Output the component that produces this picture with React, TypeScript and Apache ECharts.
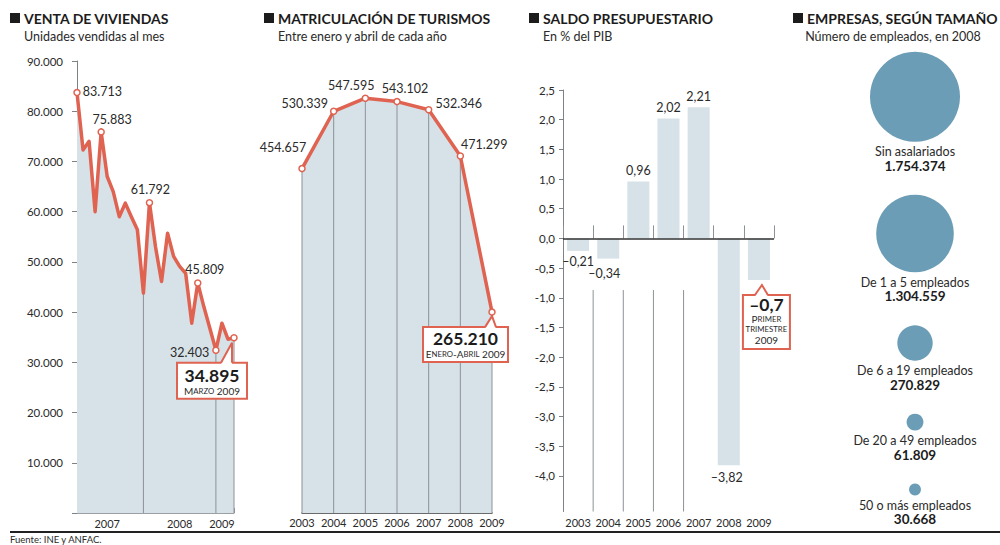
import React, { useEffect, useRef } from 'react';
import * as echarts from 'echarts';

// ---------- DATA ----------
const salesMonths = [
  'Ene 2007', 'Feb 2007', 'Mar 2007', 'Abr 2007', 'May 2007', 'Jun 2007', 'Jul 2007', 'Ago 2007', 'Sep 2007', 'Oct 2007', 'Nov 2007', 'Dic 2007',
  'Ene 2008', 'Feb 2008', 'Mar 2008', 'Abr 2008', 'May 2008', 'Jun 2008', 'Jul 2008', 'Ago 2008', 'Sep 2008', 'Oct 2008', 'Nov 2008', 'Dic 2008',
  'Ene 2009', 'Feb 2009', 'Mar 2009',
];
const salesValues = [
  83713, 72300, 74000, 60000, 75883, 67000, 64000, 59000, 61700, 59000, 56400, 43800,
  61792, 53000, 46100, 55700, 51100, 49100, 47700, 37800, 45809, 41100, 36800, 32403,
  37800, 34600, 34895,
];
const salesLabeled = [0, 4, 12, 20, 23];
const salesDividers = [11, 23, 26];
const salesYearLabels: Record<number, string> = { 5: '2007', 17: '2008', 24: '2009' };
const salesTicks = { min: 0, max: 90000, step: 10000 };

const regYears = ['2003', '2004', '2005', '2006', '2007', '2008', '2009'];
const regValues = [454657, 530339, 547595, 543102, 532346, 471299, 265210];

const budgetYears = ['2003', '2004', '2005', '2006', '2007', '2008', '2009'];
const budgetValues = [-0.21, -0.34, 0.96, 2.02, 2.21, -3.82, -0.7];
const budgetTickValues = [2.5, 2.0, 1.5, 1.0, 0.5, 0, -0.5, -1.0, -1.5, -2.0, -2.5, -3.0, -3.5, -4.0];
const budgetAxis = { min: -4.6, max: 2.5, guideTop: -0.87 };

const firmNames = ['Sin asalariados', 'De 1 a 5 empleados', 'De 6 a 19 empleados', 'De 20 a 49 empleados', '50 o más empleados'];
const firmValues = [1754374, 1304559, 270829, 61809, 30668];

// ---------- STYLE ----------
const C_LINE = '#df6350';
const C_AREA = '#d6e1e8';
const C_GRID = '#8d9296';
const C_TEXT = '#2a2a2a';
const C_DARK = '#1c1c1c';
const C_BUBBLE = '#6b9db6';
const FONT = 'Lato, "Open Sans", sans-serif';

const fmtInt = (v: number) => String(Math.round(v)).replace(/\B(?=(\d{3})+(?!\d))/g, '.');
const fmtDec = (v: number, d: number, dash: string) => {
  const s = Math.abs(v).toFixed(d).replace('.', ',');
  return v < 0 ? dash + s : s;
};

// label placements (style, not data)
const salesLabelPos: Record<number, any> = {
  0: { position: 'right', distance: 2, offset: [0, -1] },
  4: { position: 'top', distance: 2, offset: [11, 0] },
  12: { position: 'top', distance: 2, offset: [1, -1] },
  20: { position: 'top', distance: 2, offset: [7, -1] },
  23: { position: 'left', distance: 3, offset: [0, 2] },
};
const regLabelPos: any[] = [
  { offset: [-19, -9] },
  { offset: [-29, 4] },
  { offset: [-14, 0] },
  { offset: [8, -1] },
  { offset: [30, 6] },
  { offset: [24, 1] },
  null,
];
const budgetLabelPos: any[] = [
  { offset: [0, 0] },
  { offset: [-4, 4] },
  { offset: [0, 0] },
  { offset: [0, 0] },
  { offset: [0, 0] },
  { offset: [-2, 1.5] },
  null,
];

const FIRM_R_MAX = 45;
const FIRM_TOP = 51.7;
const FIRM_GAP = 53;

function buildOption(): any {
  const firmRadii = firmValues.map((v) => FIRM_R_MAX * Math.sqrt(v / firmValues[0]));
  let acc = FIRM_TOP;
  const firmCenters = firmRadii.map((r) => {
    const c = acc + r;
    acc += 2 * r + FIRM_GAP;
    return c;
  });

  const series: any[] = [];

  // ---- Panel 1: Venta de viviendas ----
  series.push({
    type: 'line', xAxisIndex: 0, yAxisIndex: 0, z: 1, silent: true,
    data: salesValues, symbol: 'none', lineStyle: { width: 0 },
    areaStyle: { color: C_AREA, opacity: 1 },
  });
  series.push({
    type: 'bar', xAxisIndex: 0, yAxisIndex: 0, z: 2, silent: true, barWidth: 1,
    data: salesValues.map((v, i) => (salesDividers.includes(i) ? v : '-')),
    itemStyle: { color: C_GRID },
  });
  series.push({
    type: 'line', xAxisIndex: 0, yAxisIndex: 0, z: 3,
    showSymbol: true, showAllSymbol: true, symbol: 'circle', symbolSize: 6,
    lineStyle: { color: C_LINE, width: 3.5, join: 'round' },
    itemStyle: { color: '#fff', borderColor: C_LINE, borderWidth: 1.5 },
    data: salesValues.map((v, i) => {
      if (i === salesValues.length - 1) return { value: v };
      if (!salesLabeled.includes(i)) return { value: v, symbol: 'none' };
      return { value: v, label: { show: true, ...salesLabelPos[i] } };
    }),
    label: {
      show: false, fontFamily: FONT, fontSize: 12.5, color: C_TEXT,
      formatter: (p: any) => fmtInt(p.value),
    },
  });

  // ---- Panel 2: Matriculación ----
  series.push({
    type: 'line', xAxisIndex: 1, yAxisIndex: 1, z: 1, silent: true,
    data: regValues, symbol: 'none', lineStyle: { width: 0 },
    areaStyle: { color: C_AREA, opacity: 1 },
  });
  series.push({
    type: 'bar', xAxisIndex: 1, yAxisIndex: 1, z: 2, silent: true, barWidth: 1,
    data: regValues, itemStyle: { color: C_GRID },
  });
  series.push({
    type: 'line', xAxisIndex: 1, yAxisIndex: 1, z: 3,
    symbol: 'circle', symbolSize: 6, showSymbol: true, showAllSymbol: true,
    lineStyle: { color: C_LINE, width: 3.5, join: 'round' },
    itemStyle: { color: '#fff', borderColor: C_LINE, borderWidth: 1.5 },
    data: regValues.map((v, i) => ({
      value: v,
      label: regLabelPos[i] ? { show: true, position: 'top', distance: 2, ...regLabelPos[i] } : { show: false },
    })),
    label: {
      show: false, fontFamily: FONT, fontSize: 12.5, color: C_TEXT,
      formatter: (p: any) => fmtInt(p.value),
    },
  });

  // ---- Panel 3: Saldo presupuestario ----
  series.push({
    type: 'bar', xAxisIndex: 2, yAxisIndex: 2, z: 2, barWidth: 22,
    itemStyle: { color: C_AREA },
    data: budgetValues.map((v, i) => ({
      value: v,
      label: budgetLabelPos[i]
        ? { show: true, position: v < 0 ? 'bottom' : 'top', distance: 4, ...budgetLabelPos[i] }
        : { show: false },
    })),
    label: {
      show: false, fontFamily: FONT, fontSize: 12.5, color: C_TEXT,
      formatter: (p: any) => fmtDec(p.value, 2, '–'),
    },
    markLine: {
      silent: true, symbol: 'none', animation: false,
      label: { show: false },
      lineStyle: { color: '#333', width: 1.5, type: 'solid' },
      data: [{ yAxis: 0 }],
    },
  });
  [1, 2, 3, 4].forEach((b) => {
    series.push({
      type: 'line', xAxisIndex: 3, yAxisIndex: 2, z: 1, silent: true, symbol: 'none',
      lineStyle: { color: C_GRID, width: 1 },
      data: [[b, budgetAxis.min], [b, budgetAxis.guideTop]],
    });
  });

  // ---- Panel 4: Empresas ----
  series.push({
    type: 'scatter', xAxisIndex: 4, yAxisIndex: 3, z: 2,
    itemStyle: { color: C_BUBBLE, opacity: 1 },
    data: firmValues.map((v, i) => ({
      name: firmNames[i], value: [0, firmCenters[i], v], symbolSize: 2 * firmRadii[i],
    })),
    label: {
      show: true, position: 'bottom', distance: 3,
      formatter: (p: any) => `{n|${p.name}}\n{v|${fmtInt(p.value[2])}}`,
      rich: {
        n: { fontFamily: FONT, fontSize: 12.5, color: C_TEXT, lineHeight: 14, align: 'center' },
        v: { fontFamily: FONT, fontSize: 13.5, fontWeight: 'bold', color: C_DARK, lineHeight: 14, align: 'center' },
      },
    },
  });

  const yearLabel = { fontFamily: FONT, fontSize: 11, color: C_TEXT, interval: 0 };

  return {
    animation: false,
    backgroundColor: '#fff',
    textStyle: { fontFamily: FONT },
    grid: [
      { left: 77, right: 1000 - 234, top: 61, bottom: 32, containLabel: false },
      { left: 302, right: 1000 - 492, top: 58.5, bottom: 32, containLabel: false },
      { left: 563, right: 1000 - 774, top: 90, bottom: 33.5, containLabel: false },
      { left: 830, right: 0, top: 0, bottom: 0, containLabel: false },
    ],
    xAxis: [
      {
        type: 'category', gridIndex: 0, data: salesMonths, boundaryGap: false,
        axisLine: { show: true, lineStyle: { color: '#9aa0a4', width: 1 } },
        axisTick: { show: true, inside: true, length: 5, interval: 0, lineStyle: { color: '#8d9296' } },
        axisLabel: {
          ...yearLabel, margin: 5,
          interval: (i: number) => salesYearLabels[i] !== undefined,
          formatter: (_v: string, i: number) => salesYearLabels[i] ?? '',
        },
      },
      {
        type: 'category', gridIndex: 1, data: regYears, boundaryGap: false,
        axisLine: { show: true, lineStyle: { color: '#3a3a3a', width: 1.5 } },
        axisTick: { show: false },
        axisLabel: { ...yearLabel, margin: 4 },
      },
      {
        type: 'category', gridIndex: 2, data: budgetYears, boundaryGap: true,
        axisLine: { show: false },
        axisTick: { show: true, inside: true, length: 13, interval: 0, lineStyle: { color: C_GRID } },
        axisLabel: { ...yearLabel, margin: 5 },
      },
      { type: 'value', gridIndex: 2, min: 0, max: budgetYears.length, show: false },
      { type: 'value', gridIndex: 3, min: -1, max: 1, show: false },
    ],
    yAxis: [
      {
        type: 'value', gridIndex: 0, min: salesTicks.min, max: salesTicks.max, interval: salesTicks.step,
        axisLine: { show: true, lineStyle: { color: '#7d8286', width: 1 } },
        axisTick: { show: true, length: 5, lineStyle: { color: '#7d8286' } },
        splitLine: { show: false },
        axisLabel: {
          fontFamily: FONT, fontSize: 11.5, color: C_TEXT, margin: 14,
          formatter: (v: number) => (v === 0 ? '' : fmtInt(v)),
        },
      },
      { type: 'value', gridIndex: 1, min: 0, max: 600000, show: false },
      {
        type: 'value', gridIndex: 2, min: budgetAxis.min, max: budgetAxis.max,
        axisLine: { show: true, lineStyle: { color: '#7d8286', width: 1 } },
        axisTick: { show: true, length: 4, customValues: budgetTickValues, lineStyle: { color: '#7d8286' } },
        splitLine: { show: false },
        axisLabel: {
          fontFamily: FONT, fontSize: 11.5, color: C_TEXT, margin: 8,
          customValues: budgetTickValues,
          formatter: (v: number) => v.toFixed(1).replace('.', ','),
        },
      },
      { type: 'value', gridIndex: 3, min: 0, max: 545, inverse: true, show: false },
    ],
    series,
  };
}

function titleBlock(x: number, title: string, sub: string, subX: number, subAlign = 'left'): any[] {
  return [
    { type: 'rect', shape: { x, y: 13, width: 10, height: 10 }, style: { fill: C_DARK } },
    {
      type: 'text', x: x + 14, y: 18.5,
      style: { text: title, fontFamily: FONT, fontSize: 14, fontWeight: 'bold', fill: C_DARK, textAlign: 'left', textVerticalAlign: 'middle' },
    },
    {
      type: 'text', x: subX, y: 36,
      style: { text: sub, fontFamily: FONT, fontSize: 12.5, fill: C_TEXT, textAlign: subAlign, textVerticalAlign: 'middle' },
    },
  ];
}

type CalloutLine = { text: string; dy: number; size: number; lh: number; bold?: boolean; rich?: any };
function callout(px: number, py: number, box: { left: number; top: number; w: number; h: number },
  tip: [number, number], baseL: number, baseR: number, lines: CalloutLine[]): any[] {
  const bx = px + box.left;
  const by = py + box.top;
  const els: any[] = [
    { type: 'rect', z: 50, shape: { x: bx, y: by, width: box.w, height: box.h }, style: { fill: '#fff', stroke: C_LINE, lineWidth: 2 } },
    { type: 'polygon', z: 51, shape: { points: [[px + baseL, by + 1.5], [px + tip[0], py + tip[1]], [px + baseR, by + 1.5]] }, style: { fill: '#fff' } },
    { type: 'polyline', z: 52, shape: { points: [[px + baseL, by], [px + tip[0], py + tip[1]], [px + baseR, by]] }, style: { fill: null, stroke: C_LINE, lineWidth: 2 } },
  ];
  lines.forEach((l) => {
    els.push({
      type: 'text', z: 53, x: bx + box.w / 2, y: by + l.dy,
      style: {
        text: l.text, fontFamily: FONT, fontSize: l.size, fontWeight: l.bold ? 'bold' : 'normal',
        fill: l.bold ? C_DARK : C_TEXT, textAlign: 'center', textVerticalAlign: 'middle',
        lineHeight: l.lh, rich: l.rich,
      },
    });
  });
  return els;
}

const smallCaps = {
  b: { fontFamily: FONT, fontSize: 10, fill: C_TEXT, color: C_TEXT, lineHeight: 9 },
  s: { fontFamily: FONT, fontSize: 7.8, fill: C_TEXT, color: C_TEXT, lineHeight: 9 },
};

export default function App() {
  const ref = useRef<HTMLDivElement>(null);
  useEffect(() => {
    const el = ref.current!;
    const chart = echarts.init(el, null, { renderer: 'svg' });
    chart.setOption(buildOption());

    const last = salesValues.length - 1;
    const p1 = chart.convertToPixel({ xAxisIndex: 0, yAxisIndex: 0 } as any, [last, salesValues[last]]) as number[];
    const lastR = regValues.length - 1;
    const p2 = chart.convertToPixel({ xAxisIndex: 1, yAxisIndex: 1 } as any, [lastR, regValues[lastR]]) as number[];
    const lastB = budgetValues.length - 1;
    const p3 = chart.convertToPixel({ xAxisIndex: 2, yAxisIndex: 2 } as any, [lastB, budgetValues[lastB]]) as number[];

    const elements: any[] = [
      ...titleBlock(10, 'VENTA DE VIVIENDAS', 'Unidades vendidas al mes', 24),
      ...titleBlock(264, 'MATRICULACIÓN DE TURISMOS', 'Entre enero y abril de cada año', 278),
      ...titleBlock(529, 'SALDO PRESUPUESTARIO', 'En % del PIB', 543),
      ...titleBlock(793, 'EMPRESAS, SEGÚN TAMAÑO', 'Número de empleados, en 2008', 893, 'center'),
      { type: 'line', shape: { x1: 10, y1: 532, x2: 1000, y2: 532 }, style: { stroke: '#222', lineWidth: 2.2 } },
      {
        type: 'text', x: 10, y: 535,
        style: { text: 'Fuente: INE y ANFAC.', fontFamily: FONT, fontSize: 9.5, lineHeight: 9.5, fill: C_TEXT, textAlign: 'left', textVerticalAlign: 'top' },
      },
      ...callout(p1[0], p1[1], { left: -57, top: 25, w: 70, h: 36 }, [-2, 5], -13, -2, [
        { text: fmtInt(salesValues[last]), dy: 13, size: 17.5, lh: 16, bold: true },
        { text: '{b|M}{s|ARZO} 2009', dy: 28.5, size: 10, lh: 9, rich: smallCaps },
      ]),
      ...callout(p2[0], p2[1], { left: -69, top: 15, w: 85, h: 35 }, [0, 4], -7, 4, [
        { text: fmtInt(regValues[lastR]), dy: 11.5, size: 17.5, lh: 16, bold: true },
        { text: '{b|E}{s|NERO}-{b|A}{s|BRIL} 2009', dy: 27, size: 10, lh: 9, rich: smallCaps },
      ]),
      ...callout(p3[0], p3[1], { left: -16, top: 15, w: 47, h: 54 }, [3, 5], -4, 9, [
        { text: fmtDec(budgetValues[lastB], 1, '–'), dy: 9.5, size: 17.5, lh: 15, bold: true },
        { text: '{b|P}{s|RIMER}', dy: 24, size: 10, lh: 9, rich: smallCaps },
        { text: '{s|TRIMESTRE}', dy: 34.5, size: 8, lh: 9, rich: smallCaps },
        { text: '2009', dy: 45.5, size: 10, lh: 9 },
      ]),
    ];
    chart.setOption({ graphic: { elements } });
    return () => chart.dispose();
  }, []);
  return (
    <div
      ref={ref}
      style={{ position: 'fixed', left: 0, top: 0, width: 1000, height: 545, background: '#fff' }}
    />
  );
}
